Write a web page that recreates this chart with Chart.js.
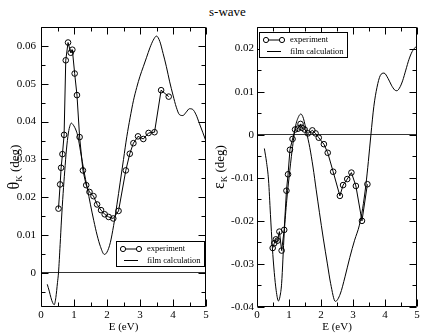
<!DOCTYPE html>
<html><head><meta charset="utf-8">
<script src="https://cdn.jsdelivr.net/npm/chart.js@4/dist/chart.umd.min.js"></script>
<style>
body{margin:0;background:#fff;width:422px;height:334px;overflow:hidden;position:relative;font-family:"Liberation Serif","Times New Roman",serif;color:#000;}
.panel{position:absolute;top:0;width:211px;height:334px;}
#title{position:absolute;top:4px;left:209px;font-size:13px;line-height:15px;white-space:nowrap;}
.ytitle{position:absolute;width:120px;height:20px;line-height:20px;text-align:center;white-space:nowrap;transform:rotate(-90deg);font-size:13px;}
.ytitle .g{font-size:16px;}
.ytitle sub{font-size:9px;vertical-align:-3px;line-height:0;}
</style>
</head><body>
<div id="title">s-wave</div>
<div class="panel" style="left:0"><canvas id="cL" width="211" height="334"></canvas></div>
<div class="panel" style="left:211px"><canvas id="cR" width="211" height="334"></canvas></div>
<div class="ytitle" style="left:-46px;top:157px;"><span class="g">θ</span><sub>K</sub> (deg)</div>
<div class="ytitle" style="left:159px;top:157px;"><span class="g">ε</span><sub>K</sub> (deg)</div>
<script>
const seriesLabels = ['experiment', 'film calculation'];
const xTickLabels = [0, 1, 2, 3, 4, 5];

// Left panel: Kerr rotation theta_K (deg)
const E_expL = [0.53,0.58,0.61,0.65,0.70,0.75,0.82,0.90,0.95,1.02,1.09,1.17,1.27,1.37,1.47,1.59,1.70,1.82,1.93,2.05,2.19,2.35,2.57,2.69,2.80,2.94,3.10,3.26,3.44,3.64,3.87];
const thetaExp = [0.0170,0.0234,0.0278,0.0314,0.0365,0.0562,0.0609,0.0582,0.0590,0.0527,0.0470,0.0359,0.0271,0.0232,0.0214,0.0203,0.0181,0.0166,0.0155,0.0148,0.0144,0.0164,0.0271,0.0315,0.0343,0.0361,0.0354,0.0370,0.0372,0.0483,0.0466];
const E_filmL = [0.19,0.25,0.30,0.35,0.40,0.45,0.50,0.53,0.58,0.62,0.67,0.72,0.77,0.83,0.88,0.92,0.97,1.02,1.07,1.12,1.20,1.30,1.40,1.50,1.60,1.70,1.80,1.92,2.00,2.10,2.20,2.30,2.40,2.50,2.60,2.70,2.80,2.90,3.00,3.10,3.20,3.30,3.40,3.50,3.60,3.70,3.80,3.90,4.00,4.10,4.20,4.30,4.40,4.50,4.60,4.70,4.80,4.90,5.00];
const thetaFilm = [-0.0030,-0.0048,-0.0065,-0.0078,-0.0084,-0.0065,-0.0025,0.0000,0.0075,0.0140,0.0210,0.0270,0.0325,0.0370,0.0390,0.0396,0.0392,0.0385,0.0375,0.0360,0.0320,0.0270,0.0225,0.0180,0.0138,0.0100,0.0070,0.0049,0.0055,0.0080,0.0125,0.0180,0.0240,0.0300,0.0360,0.0410,0.0455,0.0490,0.0520,0.0545,0.0570,0.0595,0.0615,0.0626,0.0612,0.0580,0.0545,0.0505,0.0470,0.0438,0.0418,0.0416,0.0425,0.0434,0.0432,0.0418,0.0395,0.0372,0.0348];
const yTicksL = [0, 0.01, 0.02, 0.03, 0.04, 0.05, 0.06];

// Right panel: Kerr ellipticity eps_K (deg)
const E_expR = [0.49,0.54,0.59,0.64,0.70,0.77,0.85,0.92,0.97,1.03,1.11,1.19,1.28,1.36,1.40,1.49,1.59,1.73,1.83,1.93,2.09,2.21,2.38,2.59,2.69,2.82,2.95,3.09,3.28,3.45];
const epsExp = [-0.0263,-0.0252,-0.0243,-0.0246,-0.0225,-0.0269,-0.0221,-0.0130,-0.0092,-0.0035,-0.0010,0.0012,0.0014,0.0025,0.0016,0.0012,0.0003,0.0010,0.0003,-0.0007,-0.0022,-0.0042,-0.0086,-0.0142,-0.0117,-0.0103,-0.0088,-0.0119,-0.0200,-0.0115];
const E_filmR = [0.23,0.30,0.36,0.42,0.48,0.54,0.60,0.67,0.72,0.77,0.85,0.93,1.00,1.10,1.20,1.30,1.37,1.45,1.55,1.65,1.75,1.85,1.95,2.07,2.20,2.30,2.45,2.60,2.75,2.90,3.05,3.20,3.30,3.40,3.48,3.56,3.65,3.75,3.85,3.97,4.10,4.20,4.30,4.37,4.45,4.55,4.65,4.75,4.85,4.95,5.00];
const epsFilm = [-0.0032,-0.0065,-0.0105,-0.0185,-0.0262,-0.0320,-0.0362,-0.0386,-0.0375,-0.0345,-0.0229,-0.0152,-0.0100,-0.0035,0.0018,0.0042,0.0048,0.0038,0.0005,-0.0030,-0.0075,-0.0128,-0.0180,-0.0240,-0.0300,-0.0345,-0.0387,-0.0370,-0.0330,-0.0285,-0.0245,-0.0210,-0.0172,-0.0118,-0.0062,0.0000,0.0065,0.0110,0.0137,0.0143,0.0130,0.0115,0.0104,0.0102,0.0108,0.0125,0.0150,0.0175,0.0193,0.0203,0.0206];
const yTicksR = [-0.04, -0.03, -0.02, -0.01, 0, 0.01, 0.02];

const FONT = '"Liberation Serif", "Times New Roman", serif';
const pts = (xs, ys) => xs.map((x, i) => ({x, y: ys[i]}));
const isIn = (v, list) => list.some(t => Math.abs(t - v) < 1e-9);

const framePlugin = {
  id: 'frame',
  afterDraw(chart, args, opts) {
    const {ctx, chartArea: a, scales: {x, y}} = chart;
    ctx.save();
    ctx.strokeStyle = '#000';
    ctx.lineWidth = 1;
    const L = Math.round(a.left) + 0.5, R = Math.round(a.right) - 0.5;
    const T = Math.round(a.top) + 0.5, B = Math.round(a.bottom) - 0.5;
    ctx.beginPath();
    ctx.rect(L, T, R - L, B - T);
    x.ticks.forEach(t => {
      const p = Math.round(x.getPixelForValue(t.value)) + 0.5;
      const len = isIn(t.value, xTickLabels) ? 7 : 4;
      ctx.moveTo(p, B); ctx.lineTo(p, B - len);
      ctx.moveTo(p, T); ctx.lineTo(p, T + len);
    });
    y.ticks.forEach(t => {
      const p = Math.round(y.getPixelForValue(t.value)) + 0.5;
      const len = isIn(t.value, opts.major) ? 7 : 4;
      ctx.moveTo(L, p); ctx.lineTo(L + len, p);
      ctx.moveTo(R, p); ctx.lineTo(R - len, p);
    });
    ctx.stroke();

    // legend box
    const g = opts.legend;
    const ds = chart.data.datasets;
    ctx.fillStyle = '#fff';
    ctx.fillRect(g.x, g.y, g.w, g.h);
    ctx.strokeRect(g.x + 0.5, g.y + 0.5, g.w, g.h);
    const r1 = g.y + 8, r2 = g.y + 19.5;
    ctx.beginPath();
    ctx.moveTo(g.x + 7, r1); ctx.lineTo(g.x + 23, r1);
    ctx.moveTo(g.x + 8, r2); ctx.lineTo(g.x + 22, r2);
    ctx.stroke();
    [g.x + 7, g.x + 23].forEach(cx => {
      ctx.beginPath(); ctx.fillStyle = '#fff';
      ctx.arc(cx, r1, 2.6, 0, Math.PI * 2); ctx.fill(); ctx.stroke();
    });
    ctx.fillStyle = '#000';
    ctx.font = '8.5px ' + FONT;
    ctx.textBaseline = 'middle';
    ctx.textAlign = 'left';
    ctx.fillText(ds[0].label, g.x + 31, r1);
    ctx.fillText(ds[1].label, g.x + 31, r2);
    ctx.restore();
  }
};

function makeChart(id, expX, expY, filmX, filmY, ymin, ymax, major, yW, yPad, legend) {
  return new Chart(document.getElementById(id), {
    type: 'scatter',
    data: {
      datasets: [
        {label: seriesLabels[0], data: pts(expX, expY), showLine: true, tension: 0,
         borderColor: '#000', borderWidth: 1, pointRadius: 2.8, pointBorderWidth: 1,
         pointBorderColor: '#000', pointBackgroundColor: 'rgba(0,0,0,0)'},
        {label: seriesLabels[1], data: pts(filmX, filmY), showLine: true,
         cubicInterpolationMode: 'monotone', borderColor: '#000', borderWidth: 1, pointRadius: 0}
      ]
    },
    options: {
      responsive: false, animation: false, devicePixelRatio: 1,
      layout: {padding: {top: 27, right: 4, left: 0, bottom: 0}},
      plugins: {legend: {display: false}, tooltip: {enabled: false},
        frame: {major, legend}},
      scales: {
        x: {type: 'linear', min: 0, max: 5,
            afterFit: s => { s.height = 27; },
            border: {display: false},
            grid: {display: false, drawTicks: false, tickLength: 0},
            ticks: {stepSize: 0.5, autoSkip: false, maxRotation: 0, padding: 2, color: '#000',
                    font: {family: FONT, size: 11},
                    callback: v => isIn(v, xTickLabels) ? String(Math.round(v)) : ''},
            title: {display: true, text: 'E (eV)', color: '#000', font: {family: FONT, size: 11},
                    padding: {top: 0, bottom: 0}}},
        y: {type: 'linear', min: ymin, max: ymax,
            afterFit: s => { s.width = yW; },
            border: {display: false},
            grid: {display: true, drawTicks: false, tickLength: 0, drawOnChartArea: true, lineWidth: 1,
                   color: c => (c.tick && Math.abs(c.tick.value) < 1e-12) ? '#333' : 'rgba(0,0,0,0)'},
            ticks: {stepSize: 0.005, autoSkip: false, includeBounds: false, padding: yPad, color: '#000',
                    font: {family: FONT, size: 11},
                    callback: v => {
                      const m = major.find(t => Math.abs(t - v) < 1e-9);
                      if (m === undefined) return '';
                      return m === 0 ? '0' : m.toFixed(2);
                    }}}
      }
    },
    plugins: [framePlugin]
  });
}

makeChart('cL', E_expL, thetaExp, E_filmL, thetaFilm, -0.009, 0.065, yTicksL, 41, 5,
  {x: 116, y: 241, w: 88, h: 25});
makeChart('cR', E_expR, epsExp, E_filmR, epsFilm, -0.04, 0.025, yTicksR, 46, 3,
  {x: 48, y: 32, w: 88, h: 25});
</script>
</body></html>
